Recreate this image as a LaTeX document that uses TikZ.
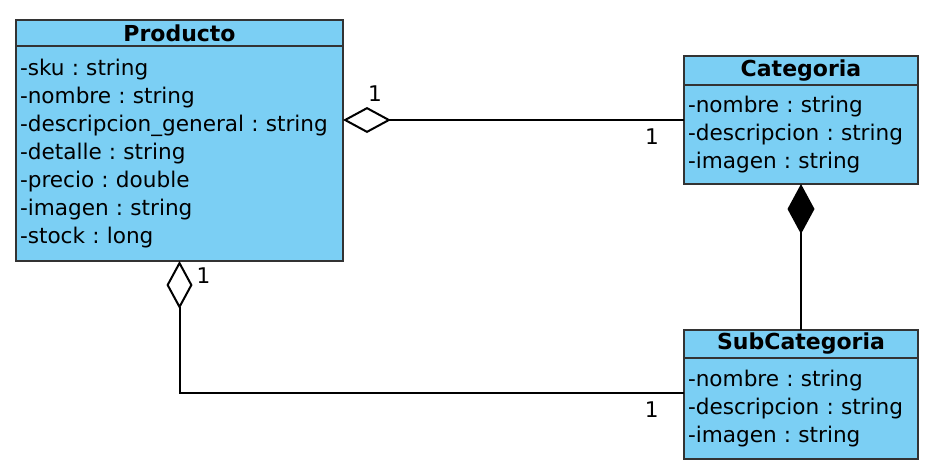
\documentclass[tikz,border=0pt]{standalone}
\usepackage{fontspec}
\setmainfont{DejaVu Sans}
\usetikzlibrary{arrows.meta, positioning, calc}
\definecolor{azulclase}{HTML}{7BCFF4}
\frenchspacing

\begin{document}
\begin{tikzpicture}[
        x=0.5pt, y=-0.5pt,
        every node/.style={font=\fontsize{10.8}{14}\selectfont},
        cabecera/.style={
            rectangle, draw=black!80, line width=0.9pt, fill=azulclase,
            outer sep=0pt, inner xsep=2pt, inner ysep=0pt, anchor=north west,
            align=center, font=\fontsize{11}{14}\selectfont\bfseries
        },
        atributos/.style={
            rectangle, draw=black!80, line width=0.9pt, fill=azulclase,
            outer sep=0pt, inner xsep=2pt, inner ysep=0pt, align=left
        },
        agregacion/.style={-{Diamond[open, length=24pt, width=13pt]}, line width=1pt, draw=black},
        composicion/.style={-{Diamond[length=25pt, width=13.5pt]}, line width=1pt, draw=black, fill=black},
        mult/.style={inner sep=1pt}
    ]
    \useasboundingbox (0,0) rectangle (932,472);

% --- Clase Producto ---
    \node[cabecera, text width=159.5pt, minimum height=13pt] (producto) at (16,20) {Producto};
    \node[atributos, text width=159.5pt, minimum height=107.5pt, below=0pt of producto] (producto_attr)
        {-sku : string\\
        -nombre : string\\
        -descripcion\_general : string\\
        -detalle : string\\
        -precio : double\\
        -imagen : string\\
        -stock : long};

% --- Clase Categoria ---
    \node[cabecera, text width=113pt, minimum height=14.5pt] (categoria) at (684,56) {Categoria};
    \node[atributos, text width=113pt, minimum height=49.5pt, below=0pt of categoria] (categoria_attr)
        {-nombre : string\\
        -descripcion : string\\
        -imagen : string};

% --- Clase SubCategoria ---
    \node[cabecera, text width=113pt, minimum height=14pt, below=73pt of categoria_attr] (subcategoria) {SubCategoria};
    \node[atributos, text width=113pt, minimum height=50.5pt, below=0pt of subcategoria] (subcategoria_attr)
        {-nombre : string\\
        -descripcion : string\\
        -imagen : string};

% --- Relaciones ---
    \path (categoria_attr.north west) ++(0,35) coordinate (nivel_sup);
    \path (subcategoria_attr.north west) ++(0,35) coordinate (nivel_inf);

    \draw[agregacion] (categoria_attr.west |- nivel_sup)
        -- node[mult, pos=0.094, below=3pt] (mult_cat) {1}
           node[mult, pos=0.906, above=8pt] (mult_prod_cat) {1}
        (producto_attr.east |- nivel_sup);

    \draw[composicion] (subcategoria.north) -- (categoria_attr.south);

    \draw[agregacion] (subcategoria_attr.west |- nivel_inf)
        -| node[mult, pos=0.032, below=3pt] (mult_sub) {1}
           node[mult, pos=0.943, right=7pt] (mult_prod_sub) {1}
        (producto_attr.south);
\end{tikzpicture}
\end{document}
